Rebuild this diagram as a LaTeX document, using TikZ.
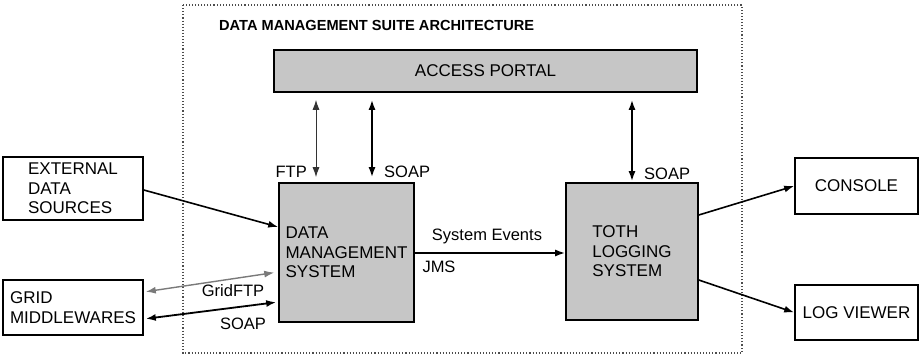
\documentclass[tikz,border=0pt]{standalone}
\usepackage{fontspec}
\setmainfont{Liberation Sans}
\usepackage{tikz}
\usetikzlibrary{arrows.meta,calc}
\definecolor{boxgrey}{HTML}{C6C6C6}
\definecolor{linkgrey}{HTML}{7A7A7A}

\begin{document}
\begin{tikzpicture}[
      x=1pt, y=-1pt,
      every node/.style={font=\fontsize{17}{19.5}\selectfont, inner sep=0pt},
      core/.style={draw,line width=1.6pt,fill=boxgrey,align=left},
      outer/.style={draw,line width=1.6pt,fill=white,align=left},
      link/.style={line width=1.2pt,-{Latex[length=10pt,width=7pt]}},
      dlink/.style={line width=1.2pt,{Latex[length=10pt,width=7pt]}-{Latex[length=10pt,width=7pt]}},
      tag/.style={font=\fontsize{16.5}{19}\selectfont}
  ]
    \useasboundingbox (0,0) rectangle (919,356);

    % suite frame
    \draw[dotted,line width=1.1pt,black!70] (183,5) rectangle (742,353);
    \node[anchor=west,font=\bfseries\fontsize{14.6}{17}\selectfont] (title) at (219,25)
      {DATA MANAGEMENT SUITE ARCHITECTURE};

    \node[core,minimum width=423pt,minimum height=42pt,align=center] (portal) at (485.5,71) {ACCESS PORTAL};
    \node[core,minimum width=135pt,minimum height=139pt] (dms) at (346.5,252.5) {DATA\\MANAGEMENT\\SYSTEM};
    \node[core,minimum width=132pt,minimum height=137pt] (toth) at (632,251.5) {TOTH\\LOGGING\\SYSTEM};

    \node[outer,minimum width=140pt,minimum height=63pt] (eds) at (73,188.5) {EXTERNAL\\DATA\\SOURCES};
    \node[outer,minimum width=140pt,minimum height=55pt] (grid) at (73,307.5) {GRID\\MIDDLEWARES};
    \node[outer,minimum width=123pt,minimum height=56pt] (console) at (856.5,186) {CONSOLE};
    \node[outer,minimum width=123pt,minimum height=55pt] (viewer) at (856.5,312.5) {LOG VIEWER};

    % portal links
    \coordinate (ftpx) at (316,0);
    \coordinate (soapx) at (372,0);
    \draw[dlink,line width=1pt,black!80,shorten <=7pt,shorten >=5pt] (portal.south -| ftpx) -- (dms.north -| ftpx);
    \draw[dlink,line width=1.8pt,shorten <=7pt,shorten >=5pt] (portal.south -| soapx) -- (dms.north -| soapx);
    \draw[dlink,line width=1.8pt,shorten <=7pt,shorten >=1pt] (portal.south -| toth.north) -- (toth.north);
    \node[tag,anchor=east] (ftplbl) at (307,172) {FTP};
    \node[tag,anchor=west] (soaplbl) at (384,172) {SOAP};
    \node[tag,anchor=west] (tothsoap) at (644,174) {SOAP};

    % events
    \draw[link,line width=1.8pt] (dms.east |- 0,253) -- (toth.west |- 0,253);
    \node[tag] (events) at (487,236) {System Events};
    \node[tag] (jms) at (439,267) {JMS};

    % outputs
    \draw[link,line width=1.6pt] ($(toth.east)+(0,-36.5)$) -- (console.west);
    \draw[link,line width=1.6pt] ($(toth.east)+(0,28.5)$) -- (viewer.west);

    % inputs
    \draw[link,line width=1.6pt] ($(eds.east)+(0,1.5)$) -- ($(dms.west)+(0,-25.5)$);
    \draw[dlink,linkgrey,line width=1.4pt,shorten <=2pt,shorten >=4pt] ($(grid.east)+(0,-15.5)$) -- ($(dms.west)+(0,19.5)$);
    \draw[dlink,line width=1.8pt,shorten <=2pt,shorten >=2pt] ($(grid.east)+(0,11.5)$) -- ($(dms.west)+(0,49.5)$);
    \node[tag] (gftp) at (233,291) {GridFTP};
    \node[tag] (gsoap) at (243,324) {SOAP};
  \end{tikzpicture}
\end{document}
